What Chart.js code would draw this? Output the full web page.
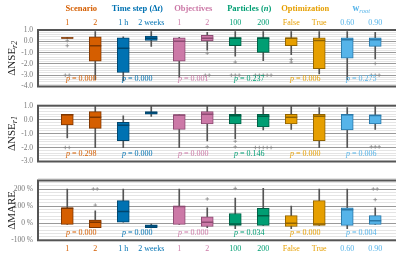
<!DOCTYPE html>
<html><head><meta charset="utf-8">
<script src="https://cdn.jsdelivr.net/npm/chart.js@4"></script>
<style>
html,body{margin:0;padding:0;width:396px;height:260px;overflow:hidden;background:#fff;position:relative;}
canvas{position:absolute;left:0;}
</style></head><body>
<canvas id="c1" width="412" height="96" style="top:0px"></canvas>
<canvas id="c2" width="412" height="75" style="top:96px"></canvas>
<canvas id="c3" width="412" height="89" style="top:171px"></canvas>
<script>
// ---------- data ----------
const categories = ['1','2','1 h','2 weeks','1','2','100','200','False','True','0.60','0.90'];
const groupNames = ['Scenario','Time step (Δt)','Objectives','Particles (n)','Optimization','w_root'];
const groupColors = ['#D55E00','#0072B2','#CC79A7','#009E73','#E69F00','#56B4E9'];
const groupDark = ['#7e3600','#00466e','#8c4b72','#005e44','#8f6200','#2a78a8'];

// Panel 1: ΔNSE r2
const nse2Low  = [0.27, -3.4, -3.5, -0.45, -3.2, -0.79, -1.31, -1.71, -1.18, -2.89, -3.4, -1.57];
const nse2Q1   = [0.27, -1.76, -2.76, 0.08, -1.76, 0.0, -0.39, -0.98, -0.39, -2.42, -1.5, -0.45];
const nse2Med  = [0.30, -0.39, -0.61, 0.26, 0.0, 0.26, 0.26, 0.26, 0.26, 0.08, 0.13, 0.13];
const nse2Q3   = [0.33, 0.39, 0.31, 0.47, 0.31, 0.52, 0.34, 0.34, 0.31, 0.31, 0.31, 0.31];
const nse2High = [0.33, 0.87, 0.40, 0.87, 0.35, 0.79, 0.87, 0.87, 0.87, 0.87, 0.87, 0.79];
const nse2Out  = [[0.05,-0.39,-3,-3],[],[],[],[],[-1.05,-3,-3],[-1.84,-3,-3,-3],[-3,-3,-3,-3,-3],[-1.6,-1.84],[],[],[-1.97,-3,-3,-3]];
const nse2P    = ['0.000','0.000','0.001','0.237','0.006','0.275'];
const nse2Ticks = [1,0,-1,-2,-3,-4];

// Panel 2: ΔNSE r1
const nse1Low  = [-1.31, -2.0, -2.0, 0.24, -2.0, -1.53, -1.36, -0.74, -0.7, -2.0, -2.0, -0.7];
const nse1Q1   = [-0.37, -0.63, -1.51, 0.39, -0.7, -0.31, -0.31, -0.52, -0.31, -1.51, -0.74, -0.31];
const nse1Med  = [0.36, 0.17, -0.41, 0.5, 0.33, 0.39, 0.28, 0.24, 0.17, 0.24, 0.35, 0.3];
const nse1Q3   = [0.39, 0.57, -0.2, 0.57, 0.35, 0.57, 0.39, 0.39, 0.39, 0.39, 0.39, 0.35];
const nse1High = [0.39, 1.0, 0.28, 1.0, 0.35, 1.0, 1.0, 1.0, 1.0, 0.87, 0.87, 1.0];
const nse1Out  = [[-2,-2],[],[],[],[],[-1.95],[-1.55,-1.95],[-2,-2,-2,-2,-2],[],[],[],[-1.95,-1.95,-1.95]];
const nse1P    = ['0.298','0.000','0.000','0.146','0.000','0.006'];
const nse1Ticks = [1,0,-1,-2,-3];

// Panel 3: ΔMARE (%)
const mareLow  = [-7, -26, 6, -28, -7, -26, -32, -13, -32, -13, -32, -7];
const mareQ1   = [-7, -26, 6, -26, -7, -19, -13, -13, -19, -13, -13, -7];
const mareMed  = [88, 6, 68, -17, 98, 6, -4, 44, 0, -4, 79, 15];
const mareQ3   = [90, 19, 132, -9, 100, 38, 57, 87, 44, 132, 90, 44];
const mareHigh = [200, 72, 200, -5, 200, 90, 147, 204, 100, 200, 200, 90];
const mareOut  = [[],[106,200,200],[],[],[],[142],[204],[],[],[],[],[138,200,200]];
const mareP    = ['0.000','0.000','0.000','0.034','0.000','0.004'];
const mareTicks = [200,100,0,-100];

// ---------- helpers ----------
const FONT = "'Liberation Serif','Times New Roman',serif";
const catColors = categories.map((_, i) => groupColors[Math.floor(i/2)]);
const catDark = categories.map((_, i) => groupDark[Math.floor(i/2)]);

function boxDatasets(lo, q1, med, q3, hi, out) {
  const idx = categories.map((_, i) => i);
  const outPts = [];
  out.forEach((vals, i) => {
    const counts = {}, seen = {};
    vals.forEach(v => counts[v] = (counts[v] || 0) + 1);
    vals.forEach(v => {
      const n = counts[v], k = seen[v] || 0; seen[v] = k + 1;
      const off = n > 1 ? (k - (n - 1) / 2) * 0.14 : 0;
      outPts.push({x: i + off, y: v});
    });
  });
  return [
    {type:'bar', data: idx.map(i => ({x:i, y:[lo[i], hi[i]]})), backgroundColor:'#555', barThickness:1, grouped:false, order:3},
    {type:'bar', data: idx.map(i => ({x:i, y:[q1[i], q3[i]]})), backgroundColor:catColors, borderColor:catDark, borderWidth:1, borderSkipped:false, barThickness:12, grouped:false, order:2},
    {type:'scatter', data: idx.map(i => ({x:i, y:med[i]})), pointStyle:'line', pointRadius:6, pointBorderColor:catDark, pointBorderWidth:1.5, order:1},
    {type:'scatter', data: outPts, pointStyle:'cross', pointRadius:1.8, pointBorderColor:'#888', pointBorderWidth:0.8, order:0}
  ];
}

function xScale(display, position, height, padding) {
  return {
    type:'linear', min:-0.5, max:11.5, position, display,
    afterBuildTicks: s => { s.ticks = categories.map((_, i) => ({value:i})); },
    ticks:{autoSkip:false, maxRotation:0, padding, color:c => catColors[c.index], font:{family:FONT, size:8}, callback:v => categories[v]},
    grid:{display:false, drawTicks:false, tickLength:0}, border:{display:false},
    afterFit: s => { s.height = height; }
  };
}

function yScale(min, max, minorStep, majors, fmt) {
  const isMajor = v => majors.some(m => Math.abs(m - v) < 1e-6);
  return {
    type:'linear', min, max,
    afterBuildTicks: s => {
      const t = []; const n = Math.round((max - min) / minorStep);
      for (let k = 0; k <= n; k++) t.push({value: +(min + k * minorStep).toFixed(6)});
      s.ticks = t;
    },
    ticks:{autoSkip:false, color:'#777', font:{family:FONT, size:7.5}, padding:5, callback:v => isMajor(v) ? fmt(v) : ''},
    grid:{color:c => isMajor(c.tick.value) ? '#999' : '#e4e4e4', lineWidth:1, drawTicks:false},
    border:{display:false},
    afterFit: s => { s.width = 38; }
  };
}

function drawRich(ctx, segs, x, y) {
  let w = 0;
  segs.forEach(s => { ctx.font = s.font; s.w = ctx.measureText(s.t).width; w += s.w; });
  let cx = x - w / 2;
  ctx.textAlign = 'left'; ctx.textBaseline = 'middle';
  segs.forEach(s => { ctx.font = s.font; ctx.fillStyle = s.color; ctx.fillText(s.t, cx, y + (s.dy || 0)); cx += s.w; });
}

function titleSegs(name, color) {
  const b = 'bold 8.5px ' + FONT, bi = 'italic bold 8.5px ' + FONT;
  if (name.includes('_')) {
    const [base, sub] = name.split('_');
    return [{t:base, font:'bold 9.5px ' + FONT, color}, {t:sub, font:'italic 6.5px ' + FONT, color, dy:2}];
  }
  const m = name.match(/^(.*\(Δ?)(\w)(\))$/);
  if (m) return [{t:m[1], font:b, color}, {t:m[2], font:bi, color}, {t:m[3], font:b, color}];
  return [{t:name, font:b, color}];
}

function decor(yTitle, ySub, pvals, showGroups) {
  return {
    id:'decor',
    afterDatasetsDraw(chart) {
      const {ctx, chartArea:a, scales} = chart;
      ctx.save();
      ctx.strokeStyle = '#555'; ctx.lineWidth = 2;
      ctx.strokeRect(a.left, a.top, a.right - a.left, a.bottom - a.top);
      pvals.forEach((p, g) => {
        const x = scales.x.getPixelForValue(2 * g + 0.5);
        drawRich(ctx, [{t:'p', font:'italic 8px ' + FONT, color:groupColors[g]}, {t:' = ' + p, font:'8px ' + FONT, color:groupColors[g]}], x, a.bottom - 7.5);
      });
      ctx.save();
      ctx.translate(12, (a.top + a.bottom) / 2);
      ctx.rotate(-Math.PI / 2);
      const segs = [{t:yTitle, font:'11px ' + FONT, color:'#222'}];
      if (ySub) segs.push({t:ySub, font:'italic 8px ' + FONT, color:'#222', dy:3});
      drawRich(ctx, segs, 0, 0);
      ctx.restore();
      if (showGroups) {
        groupNames.forEach((g, i) => {
          drawRich(ctx, titleSegs(g, groupColors[i]), scales.x.getPixelForValue(2 * i + 0.5), 9);
        });
      }
      ctx.restore();
    }
  };
}

function makeChart(id, datasets, x, y, padding, plugin) {
  return new Chart(document.getElementById(id), {
    data:{datasets},
    options:{
      responsive:false, animation:false, events:[],
      layout:{padding},
      plugins:{legend:{display:false}, tooltip:{enabled:false}},
      scales:{x, y}
    },
    plugins:[plugin]
  });
}

const fmt1 = v => v.toFixed(1);
const fmtPct = v => Math.round(v) + ' %';

makeChart('c1', boxDatasets(nse2Low, nse2Q1, nse2Med, nse2Q3, nse2High, nse2Out),
  xScale(true, 'top', 30, 1.9), yScale(-4, 1, 0.2, nse2Ticks, fmt1),
  {top:0, bottom:1.7, left:0, right:3.8}, decor('ΔNSE', 'r2', nse2P, true));

makeChart('c2', boxDatasets(nse1Low, nse1Q1, nse1Med, nse1Q3, nse1High, nse1Out),
  xScale(false, 'bottom', 0, 0), yScale(-3, 1, 0.2, nse1Ticks, fmt1),
  {top:9.7, bottom:4.3, left:0, right:3.8}, decor('ΔNSE', 'r1', nse1P, false));

makeChart('c3', boxDatasets(mareLow, mareQ1, mareMed, mareQ3, mareHigh, mareOut),
  xScale(true, 'bottom', 14, 3.9), yScale(-100, 250, 20, mareTicks, fmtPct),
  {top:7.3, bottom:5.7, left:0, right:3.8}, decor('ΔMARE', '', mareP, false));
</script></body></html>
